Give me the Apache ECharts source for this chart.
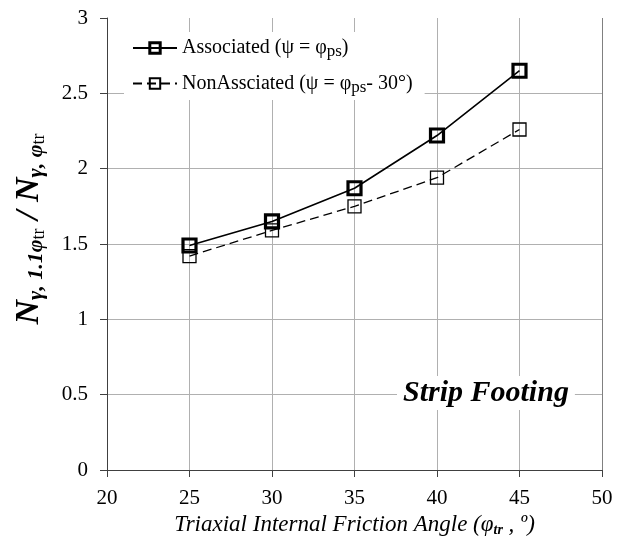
<!DOCTYPE html>
<html>
<head>
<meta charset="utf-8">
<script src="https://cdn.jsdelivr.net/npm/echarts@6/dist/echarts.min.js"></script>
<style>
  html, body { margin: 0; padding: 0; background: #fff; }
  #container { width: 617px; height: 541px; }
</style>
</head>
<body>
<div id="container"></div>
<script>
var dom = document.getElementById("container");
var myChart = echarts.init(dom);

// friction angle (deg)
var angles = [25, 30, 35, 40, 45];
// N ratio, associated flow rule
var associated = [1.49, 1.65, 1.87, 2.22, 2.65];
// N ratio, non-associated flow rule
var nonAssociated = [1.42, 1.59, 1.75, 1.94, 2.26];

var serif = 'Liberation Serif';

function toPairs(ys) {
  return angles.map(function (a, i) { return [a, ys[i]]; });
}

var option = {
  animation: false,
  textStyle: { fontFamily: serif },
  grid: { left: 107, right: 15, top: 18, bottom: 71, outerBoundsMode: 'none', containLabel: false },
  legend: {
    orient: 'vertical',
    left: 124,
    top: 32,
    backgroundColor: '#fff',
    padding: [6, 12, 4, 8],
    itemGap: 13,
    itemWidth: 44,
    itemHeight: 13,
    textStyle: {
      fontFamily: serif, fontSize: 20, color: '#000',
      rich: {
        sub: { fontFamily: serif, fontSize: 17, color: '#000', padding: [8, 0, 0, 0] }
      }
    },
    formatter: function (name) {
      if (name === 'a') return 'Associated (ψ = φ{sub|ps})';
      return 'NonAssciated (ψ = φ{sub|ps}- 30°)';
    },
    data: [
      { name: 'a', itemStyle: { borderWidth: 3 }, lineStyle: { width: 2 } },
      { name: 'b' }
    ]
  },
  xAxis: {
    type: 'value',
    min: 20, max: 50, interval: 5,
    name: 'Triaxial Internal Friction Angle (φ{s|tr} , º)',
    nameLocation: 'middle',
    nameGap: 42,
    nameTextStyle: {
      fontFamily: serif, fontSize: 23, fontStyle: 'italic', color: '#000',
      rich: {
        s: { fontFamily: serif, fontSize: 14, fontStyle: 'italic', fontWeight: 'bold', color: '#000', padding: [10, 0, 0, 0] }
      }
    },
    axisLine: { lineStyle: { color: '#404040', width: 1 } },
    axisTick: { show: true, inside: false, length: 7, lineStyle: { color: '#404040' } },
    axisLabel: { fontFamily: serif, fontSize: 21, color: '#000', margin: 18 },
    splitLine: {
      show: true,
      lineStyle: { color: ['#b0b0b0', '#b0b0b0', '#b0b0b0', '#b0b0b0', '#b0b0b0', '#b0b0b0', '#808080'], width: 1 }
    }
  },
  yAxis: {
    type: 'value',
    min: 0, max: 3, interval: 0.5,
    axisLine: { show: true, lineStyle: { color: '#404040', width: 1 } },
    axisTick: { show: true, inside: false, length: 7, lineStyle: { color: '#404040' } },
    axisLabel: { fontFamily: serif, fontSize: 21, color: '#000', margin: 19 },
    splitLine: {
      show: true,
      lineStyle: { color: ['#b0b0b0', '#b0b0b0', '#b0b0b0', '#b0b0b0', '#b0b0b0', '#b0b0b0', 'rgba(0,0,0,0)'], width: 1 }
    }
  },
  graphic: [{
    type: 'text',
    left: 397,
    top: 376,
    z: 100,
    style: {
      text: 'Strip Footing',
      fontFamily: serif,
      fontSize: 30,
      fontStyle: 'italic',
      fontWeight: 'bold',
      fill: '#000',
      backgroundColor: '#fff',
      padding: [2, 6, 2, 6]
    }
  }, {
    // y-axis title, rotated
    type: 'text',
    x: 29,
    y: 229,
    rotation: Math.PI / 2,
    style: {
      text: '{n|N}{s|γ, 1.1φ}{t|tr}{n| / N}{s|γ, φ}{t|tr}',
      align: 'center',
      verticalAlign: 'middle',
      rich: {
        n: { fontFamily: serif, fontSize: 34, fontStyle: 'italic', fontWeight: 'bold', fill: '#000', lineHeight: 38 },
        s: { fontFamily: serif, fontSize: 22, fontStyle: 'italic', fontWeight: 'bold', fill: '#000', lineHeight: 38, padding: [14, 0, 0, 0] },
        t: { fontFamily: serif, fontSize: 18, fill: '#000', lineHeight: 38, padding: [20, 0, 0, 0] }
      }
    }
  }],
  series: [{
    name: 'a',
    type: 'line',
    data: toPairs(associated),
    symbol: 'rect',
    symbolSize: 13,
    lineStyle: { color: '#000', width: 1.6, type: 'solid' },
    itemStyle: { color: 'rgba(255,255,255,0)', borderColor: '#000', borderWidth: 3.2 },
    z: 3
  }, {
    name: 'b',
    type: 'line',
    data: toPairs(nonAssociated),
    symbol: 'rect',
    symbolSize: 13,
    lineStyle: { color: '#000', width: 1.3, type: [9, 5] },
    itemStyle: { color: 'rgba(255,255,255,0)', borderColor: '#000', borderWidth: 1.3 },
    z: 2
  }]
};

myChart.setOption(option);
</script>
</body>
</html>
